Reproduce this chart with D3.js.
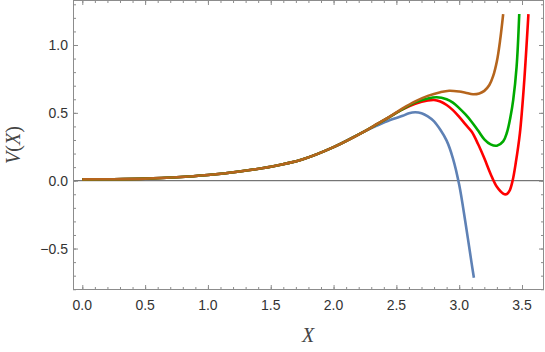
<!DOCTYPE html>
<html>
<head>
<meta charset="utf-8">
<script src="https://cdn.jsdelivr.net/npm/d3@7"></script>
<style>
  html, body { margin: 0; padding: 0; background: #fff; }
  svg { display: block; }
</style>
</head>
<body>
<svg id="chart" width="545" height="352"></svg>
<script>
// ---- data ----
const xTicks = [0, 0.5, 1.0, 1.5, 2.0, 2.5, 3.0, 3.5];
const yTicks = [-0.5, 0, 0.5, 1.0];

const blueX = [0, 0.25, 0.5, 0.75, 1.0, 1.25, 1.5, 1.75, 2.0, 2.25, 2.35, 2.45, 2.55, 2.6, 2.65, 2.7, 2.75, 2.8, 2.85, 2.9, 2.95, 3.0, 3.05, 3.1, 3.117];
const blueV = [0.010, 0.011, 0.015, 0.025, 0.042, 0.068, 0.103, 0.156, 0.247, 0.365, 0.408, 0.447, 0.478, 0.497, 0.504, 0.497, 0.474, 0.437, 0.375, 0.295, 0.165, -0.03, -0.31, -0.615, -0.715];

const redX = [0, 0.25, 0.5, 0.75, 1.0, 1.25, 1.5, 1.75, 2.0, 2.25, 2.35, 2.45, 2.55, 2.65, 2.75, 2.8, 2.85, 2.9, 2.95, 3.0, 3.05, 3.1, 3.15, 3.2, 3.25, 3.3, 3.35, 3.375, 3.4, 3.425, 3.45, 3.483, 3.515, 3.551];
const redV = [0.010, 0.011, 0.015, 0.025, 0.042, 0.068, 0.103, 0.156, 0.247, 0.365, 0.418, 0.472, 0.525, 0.566, 0.591, 0.595, 0.583, 0.558, 0.52, 0.47, 0.415, 0.36, 0.27, 0.165, 0.05, -0.045, -0.095, -0.10, -0.075, 0.0, 0.13, 0.349, 0.70, 1.228];

const greenX = [0, 0.25, 0.5, 0.75, 1.0, 1.25, 1.5, 1.75, 2.0, 2.25, 2.35, 2.45, 2.55, 2.65, 2.75, 2.82, 2.9, 2.95, 3.0, 3.05, 3.1, 3.15, 3.2, 3.25, 3.3, 3.35, 3.38, 3.41, 3.43, 3.457, 3.478];
const greenV = [0.010, 0.011, 0.015, 0.025, 0.042, 0.068, 0.103, 0.156, 0.247, 0.365, 0.418, 0.472, 0.527, 0.577, 0.606, 0.615, 0.60, 0.575, 0.535, 0.488, 0.433, 0.37, 0.305, 0.268, 0.258, 0.29, 0.355, 0.48, 0.595, 0.84, 1.228];

const orangeX = [0, 0.25, 0.5, 0.75, 1.0, 1.25, 1.5, 1.75, 2.0, 2.25, 2.35, 2.45, 2.55, 2.65, 2.75, 2.85, 2.92, 3.0, 3.05, 3.11, 3.16, 3.2, 3.24, 3.27, 3.3, 3.325, 3.35];
const orangeV = [0.010, 0.011, 0.015, 0.025, 0.042, 0.068, 0.103, 0.156, 0.247, 0.365, 0.42, 0.474, 0.533, 0.585, 0.625, 0.652, 0.663, 0.657, 0.648, 0.637, 0.643, 0.662, 0.705, 0.77, 0.88, 1.03, 1.228];

const seriesNames = ["blue", "red", "green", "orange"];
const seriesColors = ["#5e81b5", "#ff0000", "#00aa00", "#b5651d"];

// ---- layout ----
const svg = d3.select("#chart");
const L = 73, R = 544, T = 0, B = 290;
const x = d3.scaleLinear().domain([-0.074, 3.675]).range([L, R]);
const y = d3.scaleLinear().domain([-0.8055, 1.3316]).range([B, T]);

const frameColor = "#8c8c8c";
const labelColor = "#333";

// zero axis line
svg.append("line")
  .attr("x1", L).attr("x2", R)
  .attr("y1", y(0)).attr("y2", y(0))
  .attr("stroke", "#555").attr("stroke-width", 1);

// curves
const series = [
  [blueX, blueV], [redX, redV], [greenX, greenV], [orangeX, orangeV]
];
const line = d3.line()
  .x(d => x(d[0])).y(d => y(d[1]))
  .curve(d3.curveCatmullRom.alpha(0.5));
series.forEach((s, i) => {
  const pts = s[0].map((xv, j) => [xv, s[1][j]]);
  svg.append("path")
    .datum(pts)
    .attr("d", line)
    .attr("fill", "none")
    .attr("stroke", seriesColors[i])
    .attr("stroke-width", 2.6)
    .attr("stroke-linejoin", "round")
    .attr("stroke-linecap", "butt");
});

// frame with inward ticks via d3 axes
const xMinor = d3.range(0, 36).map(i => i / 10);
const yMinor = d3.range(-8, 14).map(i => i / 10);

function styleAxis(g) {
  g.select(".domain").remove();
  g.selectAll("line").attr("stroke", frameColor);
}

// bottom
svg.append("g").attr("transform", `translate(0,${B})`)
  .call(d3.axisTop(x).tickValues(xMinor).tickSize(3).tickFormat(""))
  .call(styleAxis);
svg.append("g").attr("transform", `translate(0,${B})`)
  .call(d3.axisTop(x).tickValues(xTicks).tickSize(5).tickFormat(""))
  .call(styleAxis);
// top
svg.append("g").attr("transform", `translate(0,${T})`)
  .call(d3.axisBottom(x).tickValues(xMinor).tickSize(3).tickFormat(""))
  .call(styleAxis);
svg.append("g").attr("transform", `translate(0,${T})`)
  .call(d3.axisBottom(x).tickValues(xTicks).tickSize(5).tickFormat(""))
  .call(styleAxis);
// left
svg.append("g").attr("transform", `translate(${L},0)`)
  .call(d3.axisRight(y).tickValues(yMinor).tickSize(3).tickFormat(""))
  .call(styleAxis);
svg.append("g").attr("transform", `translate(${L},0)`)
  .call(d3.axisRight(y).tickValues(yTicks).tickSize(5).tickFormat(""))
  .call(styleAxis);
// right
svg.append("g").attr("transform", `translate(${R},0)`)
  .call(d3.axisLeft(y).tickValues(yMinor).tickSize(3).tickFormat(""))
  .call(styleAxis);
svg.append("g").attr("transform", `translate(${R},0)`)
  .call(d3.axisLeft(y).tickValues(yTicks).tickSize(5).tickFormat(""))
  .call(styleAxis);

// frame rectangle
svg.append("rect")
  .attr("x", L + 0.5).attr("y", T + 0.5)
  .attr("width", R - L - 1).attr("height", B - T - 1)
  .attr("fill", "none").attr("stroke", frameColor).attr("stroke-width", 1);

// tick labels
const fmt = v => (v < 0 ? "\u2212" : "") + Math.abs(v).toFixed(1);
svg.append("g").selectAll("text").data(xTicks).join("text")
  .attr("x", d => x(d)).attr("y", 310)
  .attr("text-anchor", "middle")
  .attr("font-family", "'Liberation Sans', Arial, sans-serif")
  .attr("font-size", 14).attr("fill", labelColor)
  .text(fmt);
svg.append("g").selectAll("text").data(yTicks).join("text")
  .attr("x", 68).attr("y", d => y(d) + 5)
  .attr("text-anchor", "end")
  .attr("font-family", "'Liberation Sans', Arial, sans-serif")
  .attr("font-size", 14).attr("fill", labelColor)
  .text(fmt);

// axis labels
svg.append("text")
  .attr("x", 308).attr("y", 342)
  .attr("text-anchor", "middle")
  .attr("font-family", "'Liberation Serif', 'Times New Roman', serif")
  .attr("font-style", "italic")
  .attr("font-size", 20).attr("fill", "#444")
  .text("X");

const yl = svg.append("text")
  .attr("transform", "translate(20,145) rotate(-90)")
  .attr("text-anchor", "middle")
  .attr("font-family", "'Liberation Serif', 'Times New Roman', serif")
  .attr("font-size", 20).attr("fill", "#444");
yl.append("tspan").attr("font-style", "italic").text("V");
yl.append("tspan").text("(");
yl.append("tspan").attr("font-style", "italic").text("X");
yl.append("tspan").text(")");
</script>
</body>
</html>
